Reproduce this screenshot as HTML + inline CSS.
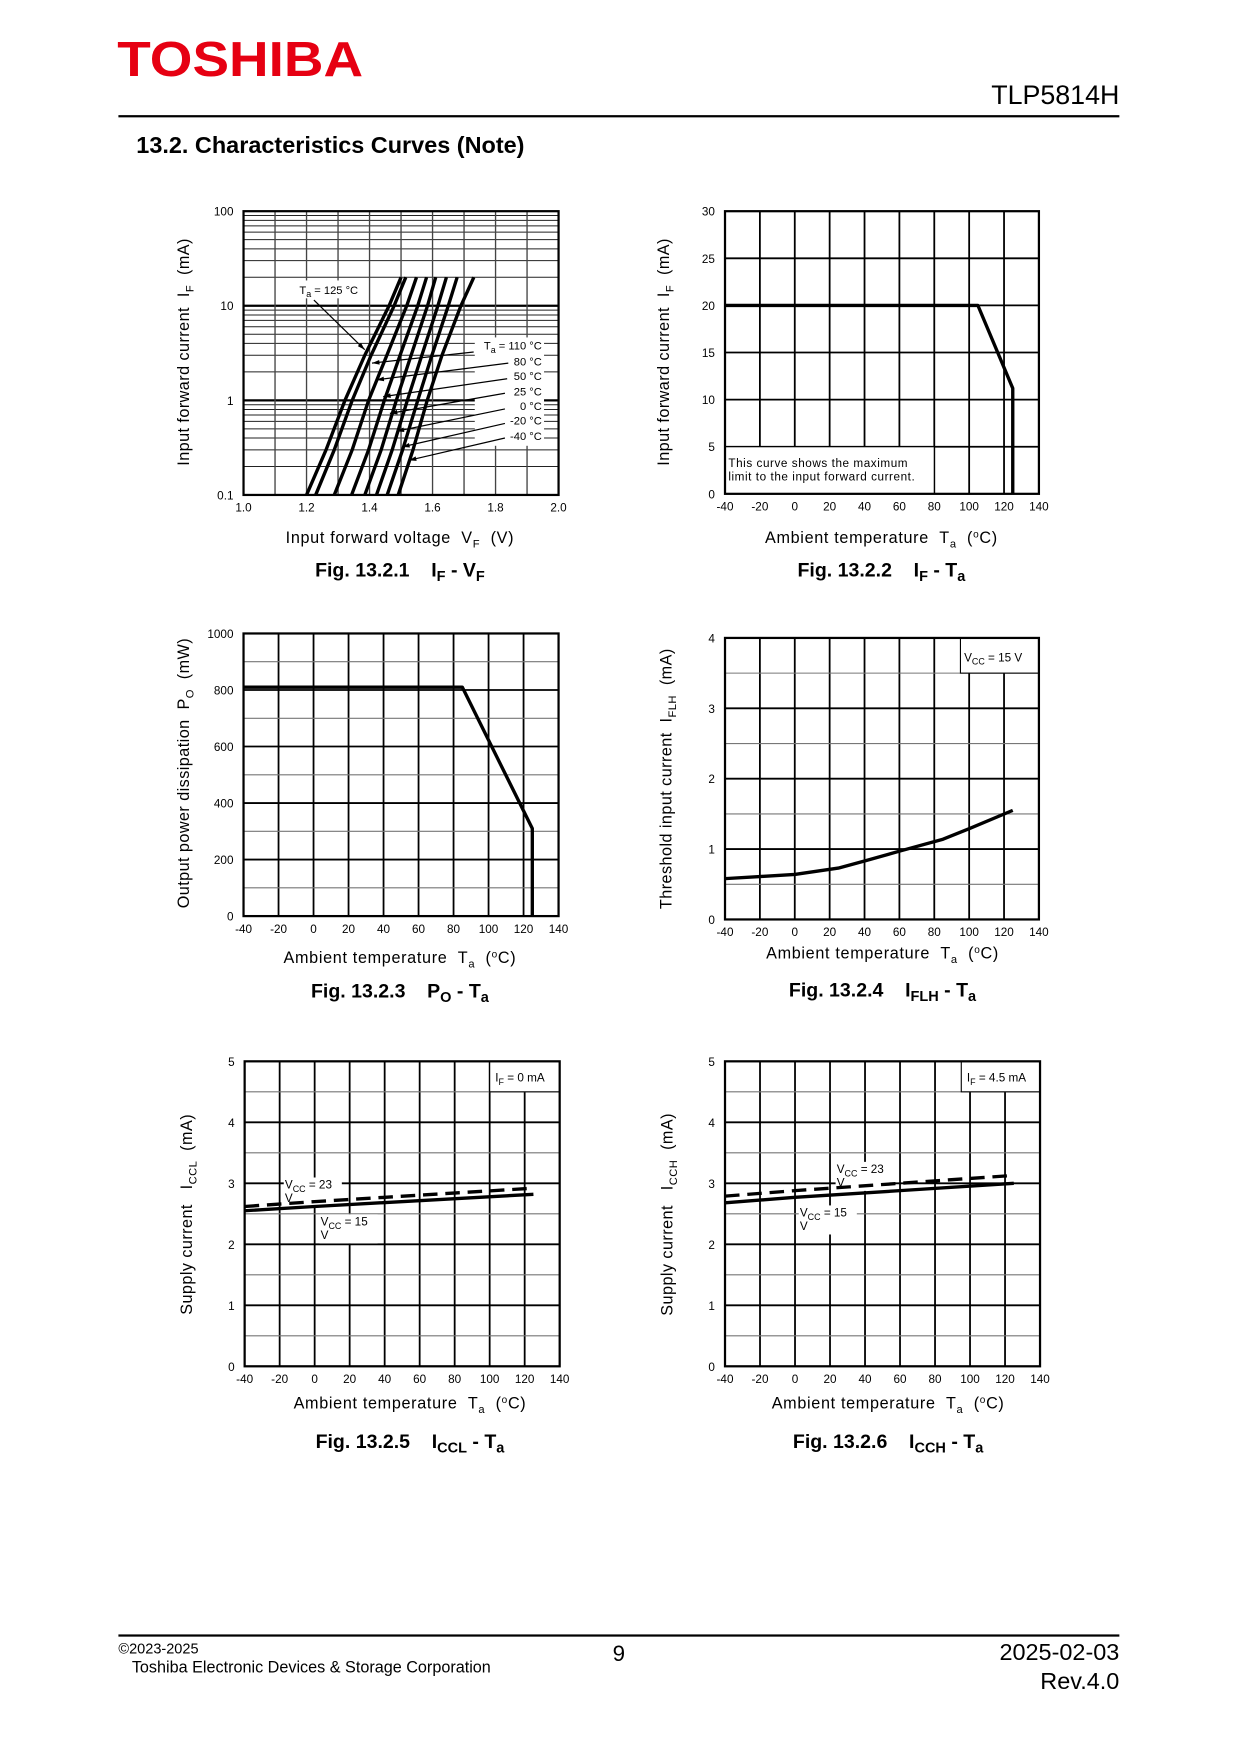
<!DOCTYPE html>
<html><head><meta charset="utf-8">
<style>
html,body{margin:0;padding:0;background:#fff;}
svg{display:block;}
text{font-family:"Liberation Sans",Arial,sans-serif;fill:#000;}
</style></head>
<body>
<svg id="page" xmlns="http://www.w3.org/2000/svg" width="1240" height="1754" viewBox="0 0 1110 1570">
  <rect x="0" y="0" width="1110" height="1570" fill="#fff"/>
  <text x="105" y="68" font-size="44" font-weight="bold" style="fill:#e60012" textLength="220" lengthAdjust="spacingAndGlyphs">TOSHIBA</text>
  <text x="1002" y="93" font-size="24" text-anchor="end">TLP5814H</text>
  <rect x="106" y="103" width="896" height="2" fill="#000"/>
  <text x="122" y="137" font-size="21" font-weight="bold">13.2. Characteristics Curves (Note)</text>
  <rect x="106" y="1463" width="896" height="2" fill="#000"/>
  <text x="106" y="1480" font-size="13">©2023-2025</text>
  <text x="118" y="1497" font-size="14.5">Toshiba Electronic Devices &amp; Storage Corporation</text>
  <text x="554" y="1487" font-size="20" text-anchor="middle">9</text>
  <text x="1002" y="1486" font-size="21" text-anchor="end">2025-02-03</text>
  <text x="1002" y="1512" font-size="21" text-anchor="end">Rev.4.0</text>
  <g id="charts"></g>
</svg>
<script>
// ---------- Fig 13.2.1 IF-VF data ----------
const ifvfCurrents = [0.1, 0.3, 1, 3, 10, 20];
const ifvfTemps = ["125", "110", "80", "50", "25", "0", "-20", "-40"];
const vf125 = [1.200, 1.262, 1.322, 1.385, 1.462, 1.500];
const vf110 = [1.229, 1.288, 1.345, 1.405, 1.478, 1.515];
const vf80  = [1.288, 1.345, 1.397, 1.455, 1.518, 1.549];
const vf50  = [1.343, 1.397, 1.447, 1.497, 1.553, 1.581];
const vf25  = [1.385, 1.437, 1.485, 1.532, 1.584, 1.610];
const vf0   = [1.422, 1.472, 1.520, 1.566, 1.617, 1.644];
const vfm20 = [1.456, 1.505, 1.553, 1.598, 1.650, 1.678];
const vfm40 = [1.491, 1.538, 1.583, 1.630, 1.690, 1.731];
const vfXTicks = ["1.0","1.2","1.4","1.6","1.8","2.0"];
const vfYTicks = ["0.1","1","10","100"];
// ---------- Fig 13.2.2 IF-Ta ----------
const ifTa = [-40, 105, 125, 125];
const ifVal = [20, 20, 11.2, 0];
// ---------- Fig 13.2.3 PO-Ta ----------
const poTa = [-40, 85, 125, 125];
const poVal = [810, 810, 310, 0];
// ---------- Fig 13.2.4 IFLH-Ta ----------
const iflhTa = [-40, -20, 0, 25, 40, 60, 85, 100, 125];
const iflhVal = [0.58, 0.61, 0.64, 0.73, 0.83, 0.97, 1.14, 1.29, 1.55];
// ---------- Fig 13.2.5 ICCL-Ta ----------
const icclTa = [-40, 0, 125];
const iccl15 = [2.55, 2.62, 2.82];
const iccl23 = [2.62, 2.70, 2.92];
// ---------- Fig 13.2.6 ICCH-Ta ----------
const icchTa = [-40, 0, 60, 125];
const icch15 = [2.68, 2.77, 2.88, 3.00];
const icch23 = [2.79, 2.88, 3.00, 3.13];
const taTicks = ["-40","-20","0","20","40","60","80","100","120","140"];

const NS = "http://www.w3.org/2000/svg";
const root = document.getElementById("charts");
function mk(tag, parent, attrs) {
  const e = document.createElementNS(NS, tag);
  for (const k in attrs) e.setAttribute(k, attrs[k]);
  (parent || root).appendChild(e);
  return e;
}
function txt(parent, x, y, s, size, anchor, extra) {
  const t = mk("text", parent, Object.assign({x: x, y: y, "font-size": size, "text-anchor": anchor || "start"}, extra || {}));
  t.innerHTML = s.replace(/ {2}/g, "&#160;&#160;").replace(/&#160; /g, "&#160;&#160;");
  return t;
}
function linScale(d0, d1, r0, r1) { return v => r0 + (v - d0) / (d1 - d0) * (r1 - r0); }
function logScale(d0, d1, r0, r1) { return v => r0 + (Math.log10(v) - Math.log10(d0)) / (Math.log10(d1) - Math.log10(d0)) * (r1 - r0); }
function pathD(xs, ys, sx, sy) { return xs.map((v, i) => (i ? "L" : "M") + sx(v).toFixed(2) + "," + sy(ys[i]).toFixed(2)).join(" "); }

function frame(g, L, T, R, B) {
  const f = mk("rect", g, {x: L, y: T, width: R - L, height: B - T, fill: "none", stroke: "#000", "stroke-width": 2});
  
  
}
function gridTemp(g, L, T, R, B, sx, sy, yMax, yStep, yMajorEvery) {
  for (let v = -20; v < 140; v += 20) {
    const l = mk("line", g, {x1: sx(v), x2: sx(v), y1: T, y2: B, stroke: "#000", "stroke-width": 1.6});
    
    
  }
  let i = 1;
  for (let v = yStep; v < yMax - 1e-9; v += yStep, i++) {
    const major = i % yMajorEvery === 0;
    const l = mk("line", g, {x1: L, x2: R, y1: sy(v), y2: sy(v), stroke: major ? "#000" : "#777", "stroke-width": major ? 1.6 : 1});
    
    
  }
}
function xTicksTemp(g, sx, B) {
  taTicks.forEach(s => {
    const t = txt(g, sx(+s), B + 15, s, 10.5, "middle");
    
    
  });
}
function yTicks(g, L, sy, labels, vals) {
  labels.forEach((s, i) => {
    const t = txt(g, L - 9, sy(vals[i]) + 4, s, 10.5, "end");
    
    
  });
}
function labels(g, cx, xlY, xl, ylx, yly, yl, capY, cap) {
  const a = txt(g, cx, xlY, xl, 14.5, "middle", {"letter-spacing": "0.6"});
  
  
  const b = txt(g, 0, 0, yl, 14.5, "middle", {transform: "translate(" + ylx + "," + yly + ") rotate(-90)", "letter-spacing": "0.4"});
  
  
  const c = txt(g, cx, capY, cap, 17.5, "middle", {"font-weight": "bold"});
  
  
}
function series(g, d, dashed, name) {
  const p = mk("path", g, {d: d, fill: "none", stroke: "#000", "stroke-width": 3, "stroke-linejoin": "round"});
  if (dashed) p.setAttribute("stroke-dasharray", "13,7");
  
  
}
function whiteBox(g, x, y, w, h, border) {
  const r = mk("rect", g, {x: x, y: y, width: w, height: h, fill: "#fff", stroke: border ? "#000" : "none", "stroke-width": 1});
  
  
}
const degTa = 'Ambient temperature  T<tspan font-size="10" dy="4">a</tspan><tspan dy="-4">  (</tspan><tspan font-size="9" dy="-5">o</tspan><tspan dy="5">C)</tspan>';

// ===== Fig 1 =====
(function () {
  const g = mk("g", root, {});
  
  
  const L = 218, R = 500, T = 189, B = 443;
  const sx = linScale(1.0, 2.0, L, R), sy = logScale(0.1, 100, B, T);
  for (let d = 0.1; d < 100; d *= 10) {
    for (let m = 2; m <= 9; m++) {
      const l = mk("line", g, {x1: L, x2: R, y1: sy(d * m), y2: sy(d * m), stroke: "#222", "stroke-width": 0.9});
      
      
    }
  }
  [1, 10].forEach(v => {
    const l = mk("line", g, {x1: L, x2: R, y1: sy(v), y2: sy(v), stroke: "#000", "stroke-width": 2});
    
    
  });
  for (let i = 1; i < 10; i++) {
    const v = 1 + i / 10;
    const l = mk("line", g, {x1: sx(v), x2: sx(v), y1: T, y2: B, stroke: "#444", "stroke-width": 1.2});
    
    
  }
  frame(g, L, T, R, B);
  vfXTicks.forEach(s => {
    const t = txt(g, sx(+s), B + 15, s, 10.5, "middle");
    
    
  });
  yTicks(g, L, sy, vfYTicks, vfYTicks.map(Number));
  const all = [vf125, vf110, vf80, vf50, vf25, vf0, vfm20, vfm40];
  whiteBox(g, 266, 251, 62, 16);
  whiteBox(g, 425, 302, 62, 97);
  all.forEach((vs, i) => {
    series(g, pathD(vs, ifvfCurrents, sx, sy), false, "curve-ta-" + ifvfTemps[i]);
  });
  const mkArrow = (x1, y1, x2, y2) => {
    const l = mk("line", g, {x1: x1, y1: y1, x2: x2, y2: y2, stroke: "#000", "stroke-width": 1.1});
    
    
    const a = Math.atan2(y2 - y1, x2 - x1), s = 7;
    const p = mk("polygon", g, {points: [x2, y2, x2 - s * Math.cos(a - 0.3), y2 - s * Math.sin(a - 0.3), x2 - s * Math.cos(a + 0.3), y2 - s * Math.sin(a + 0.3)].join(","), fill: "#000"});
    
    
  };
  const t1 = txt(g, 268, 263, 'T<tspan font-size="8" dy="3">a</tspan><tspan dy="-3"> = 125 °C</tspan>', 10, "start");
  
  
  mkArrow(281, 268.5, 326.5, 313);
  const lbls = ['T<tspan font-size="8" dy="3">a</tspan><tspan dy="-3"> = 110 °C</tspan>', "80 °C", "50 °C", "25 °C", "0 °C", "-20 °C", "-40 °C"];
  const ys = [313, 327, 340, 354, 367, 380, 394];
  const starts = [[424, 315], [455, 325], [454, 339], [452, 352], [452, 366], [452, 379], [452, 392]];
  const ends = [[333, 325], [337, 340], [343, 355], [349, 370], [355, 386], [360, 400], [366, 412]];
  lbls.forEach((s, i) => {
    const t = txt(g, 485, ys[i], s, 10, "end");
    
    
    mkArrow(starts[i][0], starts[i][1], ends[i][0], ends[i][1]);
  });
  labels(g, 358, 486, 'Input forward voltage  V<tspan font-size="10" dy="4">F</tspan><tspan dy="-4">  (V)</tspan>', 169, 315,
    'Input forward current  I<tspan font-size="10" dy="4">F</tspan><tspan dy="-4">  (mA)</tspan>', 516,
    'Fig. 13.2.1    I<tspan font-size="13" dy="4">F</tspan><tspan dy="-4"> - V</tspan><tspan font-size="13" dy="4">F</tspan>');
})();

// ===== Fig 2 =====
(function () {
  const g = mk("g", root, {});
  
  
  const L = 649, R = 930, T = 189, B = 442;
  const sx = linScale(-40, 140, L, R), sy = linScale(0, 30, B, T);
  gridTemp(g, L, T, R, B, sx, sy, 30, 5, 1);
  whiteBox(g, L, sy(5), sx(80) - L, B - sy(5), true);
  frame(g, L, T, R, B);
  xTicksTemp(g, sx, B);
  yTicks(g, L, sy, ["0","5","10","15","20","25","30"], [0,5,10,15,20,25,30]);
  series(g, pathD(ifTa, ifVal, sx, sy), false, "max-if-curve");
  const n1 = txt(g, 652, 418, "This curve shows the maximum", 10.5, "start", {"letter-spacing": "0.5"});
  
  
  const n2 = txt(g, 652, 430, "limit to the input forward current.", 10.5, "start", {"letter-spacing": "0.5"});
  
  
  labels(g, 789, 486, degTa, 599, 315,
    'Input forward current  I<tspan font-size="10" dy="4">F</tspan><tspan dy="-4">  (mA)</tspan>', 516,
    'Fig. 13.2.2    I<tspan font-size="13" dy="4">F</tspan><tspan dy="-4"> - T</tspan><tspan font-size="13" dy="4">a</tspan>');
})();

// ===== Fig 3 =====
(function () {
  const g = mk("g", root, {});
  
  
  const L = 218, R = 500, T = 567, B = 820;
  const sx = linScale(-40, 140, L, R), sy = linScale(0, 1000, B, T);
  gridTemp(g, L, T, R, B, sx, sy, 1000, 100, 2);
  frame(g, L, T, R, B);
  xTicksTemp(g, sx, B);
  yTicks(g, L, sy, ["0","200","400","600","800","1000"], [0,200,400,600,800,1000]);
  series(g, pathD(poTa, poVal, sx, sy), false, "max-po-curve");
  labels(g, 358, 862, degTa, 169, 692,
    'Output power dissipation  P<tspan font-size="10" dy="4">O</tspan><tspan dy="-4">  (mW)</tspan>', 893,
    'Fig. 13.2.3    P<tspan font-size="13" dy="4">O</tspan><tspan dy="-4"> - T</tspan><tspan font-size="13" dy="4">a</tspan>');
})();

// ===== Fig 4 =====
(function () {
  const g = mk("g", root, {});
  
  
  const L = 649, R = 930, T = 571, B = 823;
  const sx = linScale(-40, 140, L, R), sy = linScale(0, 4, B, T);
  gridTemp(g, L, T, R, B, sx, sy, 4, 0.5, 2);
  whiteBox(g, sx(95), T, R - sx(95), sy(3.5) - T, true);
  frame(g, L, T, R, B);
  xTicksTemp(g, sx, B);
  yTicks(g, L, sy, ["0","1","2","3","4"], [0,1,2,3,4]);
  series(g, pathD(iflhTa, iflhVal, sx, sy), false, "iflh-curve");
  const t = txt(g, 863, 592, 'V<tspan font-size="8" dy="3">CC</tspan><tspan dy="-3"> = 15 V</tspan>', 10.5, "start");
  
  
  labels(g, 790, 858, degTa, 601, 697,
    'Threshold input current  I<tspan font-size="10" dy="4">FLH</tspan><tspan dy="-4">  (mA)</tspan>', 892,
    'Fig. 13.2.4    I<tspan font-size="13" dy="4">FLH</tspan><tspan dy="-4"> - T</tspan><tspan font-size="13" dy="4">a</tspan>');
})();

// ===== Fig 5 & 6 =====
function supplyChart(name, L, sx0, xs, s15, s23, box, boxX, l23, l15, cx, ylx, ylabel, cap) {
  const g = mk("g", root, {});
  
  
  const R = L + 282, T = 950, B = 1223;
  const sx = linScale(-40, 140, L, R), sy = linScale(0, 5, B, T);
  gridTemp(g, L, T, R, B, sx, sy, 5, 0.5, 2);
  whiteBox(g, sx(boxX), T, R - sx(boxX), sy(4.5) - T, true);
  frame(g, L, T, R, B);
  xTicksTemp(g, sx, B);
  yTicks(g, L, sy, ["0","1","2","3","4","5"], [0,1,2,3,4,5]);
  whiteBox(g, l23[0] - 1, l23[1] - 10, 52, 26);
  whiteBox(g, l15[0] - 1, l15[1] - 10, 52, 26);
  series(g, pathD(xs, s15, sx, sy), false, "vcc-15-line");
  series(g, pathD(xs, s23, sx, sy), true, "vcc-23-line");
  const bt = txt(g, sx(boxX) + 5, T + 18, box, 10.5, "start");
  
  
  [[l23, "23"], [l15, "15"]].forEach(p => {
    const a = txt(g, p[0][0], p[0][1], 'V<tspan font-size="8" dy="3">CC</tspan><tspan dy="-3"> = ' + p[1] + '</tspan>', 10.5, "start");
    
    
    const b = txt(g, p[0][0], p[0][1] + 12, "V", 10.5, "start");
    
    
  });
  labels(g, cx, 1261, degTa, ylx, 1087, ylabel, 1296, cap);
}
supplyChart("chart-iccl-ta", 219, 0, icclTa, iccl15, iccl23,
  'I<tspan font-size="8" dy="3">F</tspan><tspan dy="-3"> = 0 mA</tspan>', 100, [255, 1064], [287, 1097], 367, 172,
  'Supply current   I<tspan font-size="10" dy="4">CCL</tspan><tspan dy="-4">  (mA)</tspan>',
  'Fig. 13.2.5    I<tspan font-size="13" dy="4">CCL</tspan><tspan dy="-4"> - T</tspan><tspan font-size="13" dy="4">a</tspan>');
supplyChart("chart-icch-ta", 649, 0, icchTa, icch15, icch23,
  'I<tspan font-size="8" dy="3">F</tspan><tspan dy="-3"> = 4.5 mA</tspan>', 95, [749, 1050], [716, 1089], 795, 602,
  'Supply current   I<tspan font-size="10" dy="4">CCH</tspan><tspan dy="-4">  (mA)</tspan>',
  'Fig. 13.2.6    I<tspan font-size="13" dy="4">CCH</tspan><tspan dy="-4"> - T</tspan><tspan font-size="13" dy="4">a</tspan>');
</script>
</body></html>
